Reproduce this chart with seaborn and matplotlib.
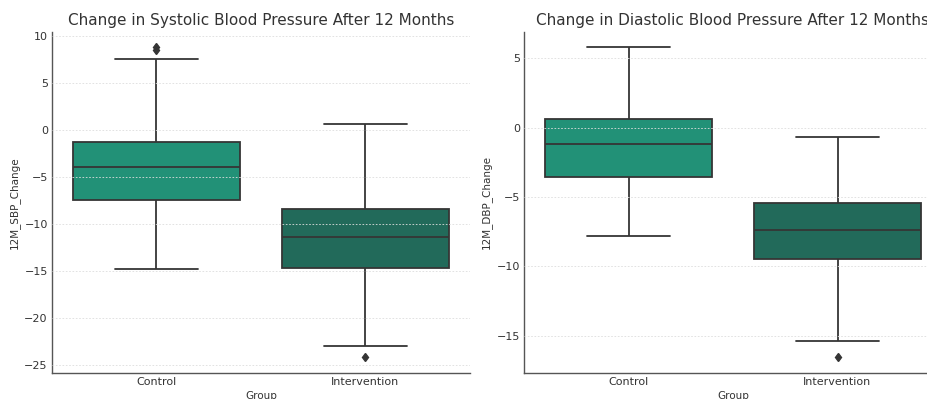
import numpy as np
import pandas as pd
import matplotlib
matplotlib.use("Agg")
import matplotlib.pyplot as plt
import seaborn as sns

# Values (whiskers, quartiles, median, fliers)
groups = ["Control", "Intervention"]
sbp_control = [-14.8, -12.3, -10.1, -8.6, -7.45, -6.6, -5.5, -4.7, -3.9,
               -3.2, -2.4, -1.7, -1.24, 2.1, 7.6, 8.55, 8.85]
sbp_intervention = [-24.2, -23.0, -19.8, -16.9, -14.7, -13.9, -12.9, -12.1, -11.35,
                    -10.6, -9.9, -9.1, -8.44, -6.5, -4.2, -1.8, 0.64]
dbp_control = [-7.81, -5.9, -4.6, -3.53, -2.7, -1.9, -1.2, -0.6, 0.0,
               0.6, 2.3, 4.1, 5.8]
dbp_intervention = [-16.55, -15.4, -11.8, -9.47, -8.7, -8.0, -7.4, -6.8, -6.1,
                    -5.4, -3.9, -2.2, -0.67]

sbp_df = pd.DataFrame({
    "Group": ["Control"] * len(sbp_control) + ["Intervention"] * len(sbp_intervention),
    "12M_SBP_Change": sbp_control + sbp_intervention,
})
dbp_df = pd.DataFrame({
    "Group": ["Control"] * len(dbp_control) + ["Intervention"] * len(dbp_intervention),
    "12M_DBP_Change": dbp_control + dbp_intervention,
})

sns.set_theme(style="white")
plt.rcParams["font.family"] = ["DejaVu Sans"]

palette = {"Control": "#229177", "Intervention": "#226a5a"}
line_col = "#353535"

fig = plt.figure(figsize=(9.28, 3.99), dpi=100)
W, H = 928, 399
ax1 = fig.add_axes([52 / W, 1 - 372.7 / H, 418 / W, 341 / H])
ax2 = fig.add_axes([524 / W, 1 - 372.7 / H, 418 / W, 341 / H])

panels = [
    (ax1, sbp_df, "12M_SBP_Change", "Change in Systolic Blood Pressure After 12 Months"),
    (ax2, dbp_df, "12M_DBP_Change", "Change in Diastolic Blood Pressure After 12 Months"),
]

for ax, df, col, title in panels:
    sns.boxplot(data=df, x="Group", y=col, hue="Group", order=groups,
                palette=palette, saturation=1, legend=False, ax=ax, width=0.8,
                linecolor=line_col, linewidth=1.3,
                flierprops=dict(marker="d", markerfacecolor=line_col,
                                markeredgecolor=line_col, markersize=4.5))
    ax.set_title(title, fontsize=11, color="#333333", pad=5)
    ax.set_xlabel("Group", fontsize=7.5, color="#333333", labelpad=3)
    ax.set_ylabel(col, fontsize=7.5, color="#333333", labelpad=3)
    ax.set_xlim(-0.5, 1.5)
    ax.yaxis.grid(True, linestyle=(0, (2, 2)), color="#dddddd", linewidth=0.6)
    ax.set_axisbelow(False)
    ax.tick_params(axis="both", labelsize=8, colors="#333333", direction="in",
                   length=3, width=0.8, pad=3)
    for side in ["top", "right"]:
        ax.spines[side].set_visible(False)
    for side in ["left", "bottom"]:
        ax.spines[side].set_color("#555555")
        ax.spines[side].set_linewidth(1.0)

fig.savefig("out.png", dpi=100)
